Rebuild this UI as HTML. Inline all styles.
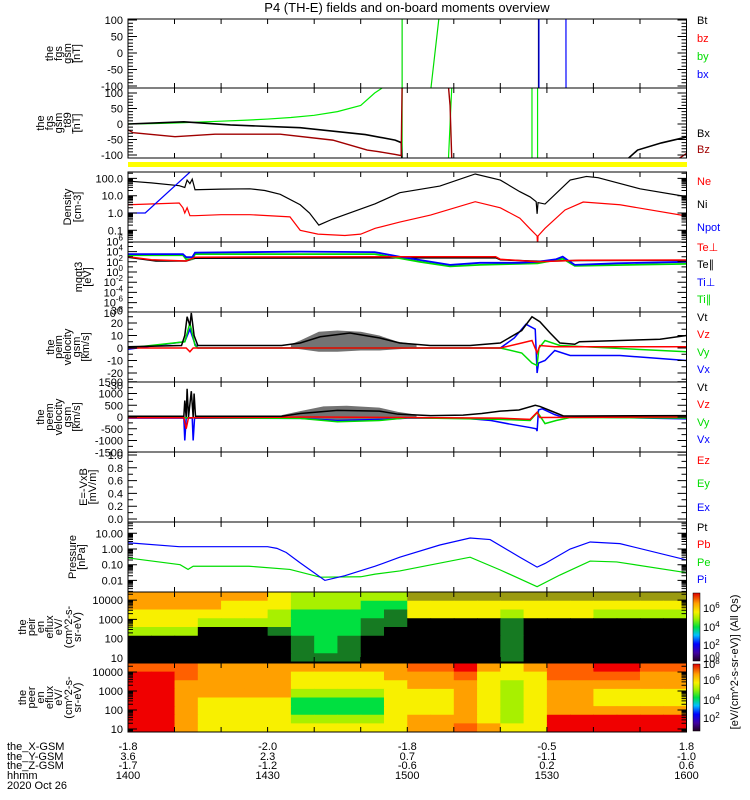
<!DOCTYPE html>
<html><head><meta charset="utf-8"><title>THEMIS-E overview</title>
<style>
html,body{margin:0;padding:0;background:#fff;}
svg{display:block;font-family:"Liberation Sans",sans-serif;}
text{font-size:11px;}
</style></head>
<body>
<svg id="chart" width="750" height="800" viewBox="0 0 750 800" xmlns="http://www.w3.org/2000/svg">
<rect x="0" y="0" width="750" height="800" fill="#fff"/>
<text x="407" y="12" text-anchor="middle" style="font-size:13px">P4 (TH-E) fields and on-board moments overview</text>
<g id="spec"></g>
<g id="series"></g>
<g id="frames"></g>
<rect x="128" y="162" width="559" height="5" fill="#ffff00"/>
<g id="ylabels" fill="#000"></g>
<g id="legend"></g>
<g id="titles"></g>
<g>
<defs><linearGradient id="cbg" x1="0" y1="1" x2="0" y2="0">
<stop offset="0" stop-color="#200020"/><stop offset="0.12" stop-color="#4000a0"/><stop offset="0.25" stop-color="#0000ff"/><stop offset="0.38" stop-color="#00c0ff"/><stop offset="0.5" stop-color="#00e040"/><stop offset="0.62" stop-color="#a0f000"/><stop offset="0.72" stop-color="#f8f000"/><stop offset="0.85" stop-color="#ffa000"/><stop offset="1" stop-color="#e00000"/></linearGradient></defs>
<rect x="693" y="593" width="7" height="68" fill="url(#cbg)" stroke="#000" stroke-width="0.5"/>
<text x="703" y="612">10<tspan dy="-4" style="font-size:8px">6</tspan></text>
<text x="703" y="631">10<tspan dy="-4" style="font-size:8px">4</tspan></text>
<text x="703" y="649">10<tspan dy="-4" style="font-size:8px">2</tspan></text>
<text x="703" y="662">10<tspan dy="-4" style="font-size:8px">0</tspan></text>
</g>
<g>
<rect x="693" y="664" width="7" height="67" fill="url(#cbg)" stroke="#000" stroke-width="0.5"/>
<text x="703" y="668">10<tspan dy="-4" style="font-size:8px">8</tspan></text>
<text x="703" y="684">10<tspan dy="-4" style="font-size:8px">6</tspan></text>
<text x="703" y="704">10<tspan dy="-4" style="font-size:8px">4</tspan></text>
<text x="703" y="722">10<tspan dy="-4" style="font-size:8px">2</tspan></text>
</g>
<text transform="rotate(-90 738 662)" x="738" y="662" text-anchor="middle">[eV/(cm^2-s-sr-eV)]  (All Qs)</text>
<g id="xlab">
<text x="7" y="750">the_X-GSM</text>
<text x="7" y="760">the_Y-GSM</text>
<text x="7" y="769">the_Z-GSM</text>
<text x="7" y="779">hhmm</text>
<text x="7" y="789">2020 Oct 26</text>
</g>
</svg>
<script>
// ===== data =====
const timeTickLabels=["1400","1430","1500","1530","1600"];
const xGsmLabels=["-1.8","-2.0","-1.8","-0.5","1.8"];
const yGsmLabels=["3.6","2.3","0.7","-1.1","-1.0"];
const zGsmLabels=["-1.7","-1.2","-0.6","0.2","0.6"];
// panel 1 (fgs gsm, nT): [minutes since 14:00, value]
const p1By=[[58.9,-999],[58.9,999],null,[65.1,-105],[66.8,105]];
const p1Bx=[[88.3,-999],[88.3,999],null,[94.1,999],[94.1,30],[94.2,-999]];
const p1Bt=[[88.2,-999],[88.2,999]];
// panel 2 (fgs gsm t89)
const p2Green=[[0,0],[5,1],[10,3],[15,6],[20,9],[25,12],[30,16],[35,21],[40,28],[45,40],[50,60],[53,100],[56,130],null,[58.9,-130],[58.9,130],null,[68.8,-130],[69.6,130],null,[86.8,-130],[86.8,130],null,[88,130],[88,-130]];
const p2Bx=[[0,0],[12,7],[22,-3],[37,-12],[51,-34],[57.4,-52],[58.7,-60],[58.9,-130],null,[107.4,-112],[109.5,-84],[114.6,-61],[120,-42]];
const p2Bz=[[0,-19],[1.1,-28],[10.1,-41],[18.7,-33],[32.7,-33],[44,-52],[51.4,-84],[53.7,-89],[57.4,-98],[58.7,-102],[58.9,130],null,[68.8,130],[69.2,60],[69.6,-130],null,[116.5,-130],[120,-95]];
// panel 3 density (cm^-3)
const p3Ni=[[0,70],[5,55],[11,38],[12.2,30],[12.7,80],[13.3,50],[13.8,90],[14.4,22],[20,24],[26.2,25],[29.4,20],[32.7,12],[37,3],[39,1],[41,0.2],[44,0.45],[53.1,3.4],[58.4,15],[67,36],[74.6,180],[80,80],[84.2,17],[86.4,8.5],[87.7,4.5],[87.9,0.9],[88.1,4],[89.6,3.3],[95,80],[98.5,130],[101,110],[110,25],[120,8.8]];
const p3Ne=[[0,3],[11,3.8],[11.8,2],[12.2,1],[12.7,2],[13.3,0.7],[14.4,0.7],[20,0.8],[26.2,0.8],[34.8,0.6],[37,0.1],[40.8,0.06],[46.6,0.05],[50,0.06],[53.1,0.13],[58.4,0.3],[65,0.76],[74.6,4.5],[80,2],[84.2,0.5],[86.4,0.12],[87.9,0.047],[88,0.01],[88.1,0.047],[89.6,0.13],[93.9,1.5],[97.8,4.3],[105.7,3],[120,0.67]];
const p3Npot=[[0,1],[3.7,1],[13.3,230]];
// panel 4 temperatures, log10(eV)
const p4TiPerp=[[0,3.5],[11.8,3.5],[12.5,2.9],[13.8,2.9],[14.4,3.8],[37,4.0],[53,3.9],[58.4,3.0],[62.7,2.35],[69.2,1.4],[75.6,1.8],[84,1.8],[88,2.0],[92,2.5],[93.4,3.0],[94.5,2.3],[96,1.4],[105,1.7],[120,2.0]];
const p4TiPar=[[0,3.3],[11.8,3.3],[12.5,2.5],[13.8,2.5],[14.4,3.5],[53,3.5],[58.4,2.7],[62.7,2.0],[69.2,1.1],[75.6,1.4],[88,1.7],[93.4,2.6],[96,1.2],[120,1.6]];
const p4TePerp=[[0,3.0],[5,2.4],[12.5,2.15],[14.4,2.9],[53,3.0],[79,3.0],[80,2.5],[88,2.0],[97,2.3],[120,2.35]];
const p4TePar=[[0,2.9],[6,2.15],[12.5,2.15],[14.4,2.7],[79,2.8],[80,2.4],[88,2.1],[97,2.25],[120,2.3]];
// panel 5 peim velocity (km/s)
const p5Vt=[[0,1],[11.5,2],[12.2,10],[12.7,25],[13.3,18],[13.6,28],[14.2,10],[15,2],[33,2],[37,4],[41.3,9],[47.7,12],[54.1,8],[58.4,4],[64.9,2],[73.5,2],[80,4],[84.6,14],[86.8,25],[88.5,21],[90.7,12],[92.8,4],[96,3],[97,5],[105.7,6],[114.3,7],[120,10]];
const p5Vz=[[0,0],[12.5,0],[13.3,-3],[14,0],[80,0],[84.6,4],[86.8,6],[87.9,-4],[88.5,2],[91.7,1],[120,1]];
const p5Vy=[[0,0],[12.2,5],[13.3,20],[14.4,2],[15,0],[80,0],[84.6,-4],[86.8,-12],[87.9,-14],[88.3,0],[89.6,6],[92.8,2],[120,-3]];
const p5Vx=[[0,-1],[12.2,5],[13.3,15],[14.4,3],[15,0],[80,0],[83,8],[85.5,19],[87.5,15],[87.9,-20],[88.2,-12],[89.6,-10],[91.7,-2],[95,-6],[105.7,-6],[120,-10]];
const p5Noise=[[35,0,3],[37,-1,6],[41,-3,13],[45,-3,14],[50,-2,13],[54,-2,10],[58,-1,5],[62,0,3]];
// panel 6 peem velocity (km/s)
const p6Vt=[[0,30],[12,30],[12.2,700],[12.5,0],[12.7,1200],[13,0],[13.6,1100],[14,0],[14.2,1000],[14.5,30],[33,30],[37,150],[45,280],[54,250],[58,120],[65,60],[72,80],[76,150],[80,250],[84,300],[87.5,500],[88.5,450],[91,250],[93.5,50],[96,40],[120,60]];
const p6Vx=[[0,-50],[12,-50],[12.2,-1000],[12.5,-50],[13.8,-50],[14,-1000],[14.3,-50],[37,-60],[45,-150],[55,-100],[60,-50],[72,-50],[78,-150],[82,-300],[86.4,-450],[87.7,-500],[87.9,-600],[88.2,300],[89,350],[91.7,100],[93,20],[120,-80]];
const p6Vy=[[0,-20],[37,-60],[45,-200],[54,-150],[60,-30],[80,-100],[86.4,-150],[88,200],[89.6,-280],[92,-150],[95,-20],[120,-40]];
const p6Vz=[[0,-30],[12,-30],[12.5,-500],[13,-30],[40,0],[80,-50],[86.4,-100],[87.9,200],[88.5,-20],[120,0]];
const p6Noise=[[33,-30,80],[37,-60,250],[42,-100,450],[47,-150,480],[54,-100,400],[58,-30,220],[62,0,100]];
// panel 8 pressure (nPa)
const p8Pi=[[0,2.5],[11,1.4],[30,1.4],[32,1.1],[34,0.6],[37,0.13],[42.3,0.01],[46.6,0.02],[53.1,0.08],[58.4,0.3],[67,1.8],[73.5,5],[77.8,4],[84.2,0.3],[87.9,0.07],[89.6,0.12],[95,1],[99.3,2.8],[105.7,2.2],[120,0.2]];
const p8Pe=[[0,0.27],[11.2,0.1],[12.9,0.05],[14,0.08],[26,0.08],[34.8,0.05],[41.3,0.016],[50,0.017],[53.1,0.025],[58.4,0.04],[73.5,0.3],[80,0.046],[87.9,0.004],[92.8,0.022],[99.3,0.17],[105,0.15],[120,0.031]];
// spectrograms: flux level per 5-min column (24), energy bins top->bottom (8); -1 = no counts, 9/10 = speckled green/yellow
const ionFlux=[
[6,6,6,6,6,6,5,4,4,4,4,4,10,10,10,10,10,10,10,10,10,10,10,10],
[6,6,6,6,5,5,5,4,4,4,3,3,5,5,5,5,5,5,5,5,5,5,5,5],
[5,5,5,5,5,5,4,3,3,3,3,9,5,5,5,5,4,5,5,5,4,4,4,4],
[5,5,5,4,4,4,4,3,3,3,9,9,-1,-1,-1,-1,9,-1,-1,-1,-1,-1,-1,-1],
[4,4,4,-1,-1,-1,9,3,3,3,9,-1,-1,-1,-1,-1,9,-1,-1,-1,-1,-1,-1,-1],
[-1,-1,-1,-1,-1,-1,-1,9,3,9,-1,-1,-1,-1,-1,-1,9,-1,-1,-1,-1,-1,-1,-1],
[-1,-1,-1,-1,-1,-1,-1,9,3,9,-1,-1,-1,-1,-1,-1,9,-1,-1,-1,-1,-1,-1,-1],
[-1,-1,-1,-1,-1,-1,-1,9,9,9,-1,-1,-1,-1,-1,-1,9,-1,-1,-1,-1,-1,-1,-1]];
const elecFlux=[
[7,7,7,6,6,6,6,6,6,6,6,6,7,7,8,6,5,6,7,7,8,8,7,7],
[8,8,7,6,6,6,6,5,5,5,5,6,6,6,7,5,5,5,7,7,7,7,6,6],
[8,8,6,6,6,6,6,5,5,5,5,5,6,6,6,5,4,5,6,6,6,6,6,6],
[8,8,6,6,6,6,6,4,4,4,4,5,5,5,6,5,4,5,6,6,5,5,5,5],
[8,8,6,5,5,5,5,3,3,3,3,5,5,5,6,5,4,5,6,6,5,5,5,5],
[8,8,6,5,5,5,5,3,3,3,3,5,5,5,6,5,4,5,6,6,6,6,6,6],
[8,8,6,5,5,5,5,4,4,4,4,5,6,6,6,5,4,5,8,8,8,8,8,8],
[8,8,6,5,5,5,5,5,5,5,5,5,6,6,7,6,5,5,8,8,8,8,8,8]];

// ===== rendering =====
const NS="http://www.w3.org/2000/svg";
const X0=128,X1=686.5;
const xT=t=>X0+t*(X1-X0)/120;
function mk(tag,attrs,parent){const e=document.createElementNS(NS,tag);for(const k in attrs)e.setAttribute(k,attrs[k]);parent.appendChild(e);return e;}
const lg=Math.log10;
const panels=[
 {id:'fgs',top:19,bot:88,y:v=>53-0.33*v,ticks:[[100,'100'],[50,'50'],[0,'0'],[-50,'-50'],[-100,'-100']],minor:[-90,-80,-70,-60,-40,-30,-20,-10,10,20,30,40,60,70,80,90]},
 {id:'fgs-t89',top:88,bot:158,y:v=>124-0.31*v,ticks:[[100,'100'],[50,'50'],[0,'0'],[-50,'-50'],[-100,'-100']],minor:[-90,-80,-70,-60,-40,-30,-20,-10,10,20,30,40,60,70,80,90]},
 {id:'density',top:172,bot:242,y:v=>213-17.3*lg(v),ticks:[[100,'100.0'],[10,'10.0'],[1,'1.0'],[0.1,'0.1']],log:true},
 {id:'temperature',top:242,bot:312,y:v=>272-5.1*v,ticks:[[6,'10^6'],[4,'10^4'],[2,'10^2'],[0,'10^0'],[-2,'10^-2'],[-4,'10^-4'],[-6,'10^-6'],[-8,'10^-8']],minor:[5,3,1,-1,-3,-5,-7]},
 {id:'peim-velocity',top:312,bot:382,y:v=>348-1.25*v,ticks:[[30,'30'],[20,'20'],[10,'10'],[0,'0'],[-10,'-10'],[-20,'-20'],[-30,'-30']],minor:[25,15,5,-5,-15,-25]},
 {id:'peem-velocity',top:382,bot:452,y:v=>417-0.0235*v,ticks:[[1500,'1500'],[1000,'1000'],[500,'500'],[0,'0'],[-500,'-500'],[-1000,'-1000'],[-1500,'-1500']],minor:[1250,750,250,-250,-750,-1250]},
 {id:'efield',top:452,bot:522,y:v=>519-64*v,ticks:[[1,'1.0'],[0.8,'0.8'],[0.6,'0.6'],[0.4,'0.4'],[0.2,'0.2'],[0,'0.0']],minor:[0.9,0.7,0.5,0.3,0.1]},
 {id:'pressure',top:522,bot:592,y:v=>549-15.7*lg(v),ticks:[[10,'10.00'],[1,'1.00'],[0.1,'0.10'],[0.01,'0.01']],log:true},
 {id:'ion-spectrogram',top:592,bot:662,y:v=>658-19.3*(lg(v)-1),ticks:[[10000,'10000'],[1000,'1000'],[100,'100'],[10,'10']],log:true},
 {id:'electron-spectrogram',top:663,bot:732,y:v=>729-19*(lg(v)-1),ticks:[[10000,'10000'],[1000,'1000'],[100,'100'],[10,'10']],log:true}
];
const svg=document.getElementById('chart');
const defs=mk('defs',{},svg);
panels.forEach((p,i)=>{const cp=mk('clipPath',{id:'clip'+i},defs);mk('rect',{x:X0,y:p.top,width:X1-X0,height:p.bot-p.top},cp);});

// spectrograms
const cmap=['#400060','#0000ff','#00c0ff','#00e040','#a8f000','#f8f000','#ffa000','#ff6000','#f00000','#167a22','#9a9a10'];
function drawSpec(grid,pi,name){
 const p=panels[pi];const g=mk('g',{'clip-path':'url(#clip'+pi+')'},document.getElementById('spec'));
 
 
 const rows=grid.length,cols=grid[0].length,rh=(p.bot-p.top)/rows,cw=(X1-X0)/cols;
 grid.forEach((row,r)=>row.forEach((v,c)=>{
  const cell=mk('rect',{x:(X0+c*cw).toFixed(2),y:(p.top+r*rh).toFixed(2),width:(cw+0.6).toFixed(2),height:(rh+0.6).toFixed(2),fill:v<0?'#000':cmap[v]},g);
  
  
 }));
}
drawSpec(ionFlux,8,'ion-energy-flux');
drawSpec(elecFlux,9,'electron-energy-flux');

// series
function path(pts,p){let d='',pen=false;pts.forEach(q=>{if(!q){pen=false;return;}const yy=Math.max(-500,Math.min(1300,p.y(q[1])));d+=(pen?'L':'M')+xT(q[0]).toFixed(2)+' '+yy.toFixed(2);pen=true;});return d;}
function line(pts,pi,color,name,w){
 const p=panels[pi];const e=mk('path',{d:path(pts,p),fill:'none',stroke:color,'stroke-width':w||1.2,'clip-path':'url(#clip'+pi+')'},document.getElementById('series'));
 
 
}
function band(pts,pi,color,name){
 const p=panels[pi];let d='';pts.forEach((q,k)=>{d+=(k?'L':'M')+xT(q[0]).toFixed(2)+' '+p.y(q[2]).toFixed(2);});
 for(let k=pts.length-1;k>=0;k--){d+='L'+xT(pts[k][0]).toFixed(2)+' '+p.y(pts[k][1]).toFixed(2);}
 const e=mk('path',{d:d+'Z',fill:color,'fill-opacity':0.55,'clip-path':'url(#clip'+pi+')'},document.getElementById('series'));
 
 
}
line(p1Bt,0,'#000','line-bt');line(p1By,0,'#00dd00','line-by');line(p1Bx,0,'#0000ff','line-bx');
line(p2Green,1,'#00ee00','line-by-t89');line(p2Bx,1,'#000','line-bx-t89',1.6);line(p2Bz,1,'#a00000','line-bz-t89',1.4);
line(p3Ni,2,'#000','line-ni');line(p3Ne,2,'#ff0000','line-ne');line(p3Npot,2,'#0000ff','line-npot');
line(p4TePar,3,'#000','line-te-par',1.5);line(p4TiPar,3,'#00dd00','line-ti-par',1.8);line(p4TiPerp,3,'#0000ff','line-ti-perp',1.8);line(p4TePerp,3,'#ff0000','line-te-perp',1.5);
band(p5Noise,4,'#000','noise-band-peim');
line(p5Vx,4,'#0000ff','line-vx-peim',1.5);line(p5Vy,4,'#00dd00','line-vy-peim',1.5);line(p5Vz,4,'#ff0000','line-vz-peim',1.5);line(p5Vt,4,'#000','line-vt-peim',1.5);
band(p6Noise,5,'#000','noise-band-peem');
line(p6Vx,5,'#0000ff','line-vx-peem',1.5);line(p6Vy,5,'#00dd00','line-vy-peem',1.5);line(p6Vz,5,'#ff0000','line-vz-peem',1.5);line(p6Vt,5,'#000','line-vt-peem',1.5);
line(p8Pe,7,'#00dd00','line-pe');line(p8Pi,7,'#0000ff','line-pi');

// frames, ticks, labels
const fr=document.getElementById('frames'),yl=document.getElementById('ylabels');
panels.forEach((p,i)=>{
 const r=mk('rect',{x:X0,y:p.top,width:X1-X0,height:p.bot-p.top,fill:'none',stroke:'#000','stroke-width':1},fr);
 
 
 let d='';
 for(let t=10;t<120;t+=10){const x=xT(t).toFixed(1);d+=`M${x} ${p.bot}v-5M${x} ${p.top}v5`;}
 const mt=(y,len)=>{if(y<p.top-0.5||y>p.bot+0.5)return;d+=`M${X0} ${y.toFixed(1)}h${len}M${X1} ${y.toFixed(1)}h${-len}`;};
 p.ticks.forEach(tk=>mt(p.y(tk[0]),9));
 if(p.minor)p.minor.forEach(v=>mt(p.y(v),5));
 if(p.log){for(let e=-3;e<5;e++)for(let m=2;m<10;m++)mt(p.y(m*Math.pow(10,e)),5);}
 const tk=mk('path',{d:d,stroke:'#000','stroke-width':1,fill:'none'},fr);
 
 
 p.ticks.forEach(t=>{
  const y=p.y(t[0]);const s=t[1];
  const tx=mk('text',{x:123,y:(y+4).toFixed(1),'text-anchor':'end'},yl);
  if(s.startsWith('10^')){tx.textContent='10';const ts=mk('tspan',{dy:-5,style:'font-size:8px'},tx);ts.textContent=s.slice(3);}
  else tx.textContent=s;
  
  
 });
});
// time axis labels
const xl=document.getElementById('xlab');
timeTickLabels.forEach((s,k)=>{
 const x=xT(k*30);
 [[xGsmLabels[k],750],[yGsmLabels[k],760],[zGsmLabels[k],769],[s,779]].forEach(a=>{
  const t=mk('text',{x:x.toFixed(1),y:a[1],'text-anchor':'middle'},xl);t.textContent=a[0];
  
  
 });
});
// legends
const legend=[[24,'Bt','#000'],[42,'bz','#ff0000'],[60,'by','#00dd00'],[78,'bx','#0000ff'],[137,'Bx','#000'],[153,'Bz','#a00000'],
[185,'Ne','#ff0000'],[208,'Ni','#000'],[231,'Npot','#0000ff'],[251,'Te\u22a5','#ff0000'],[268,'Te\u2225','#000'],[286,'Ti\u22a5','#0000ff'],[303,'Ti\u2225','#00dd00'],
[321,'Vt','#000'],[338,'Vz','#ff0000'],[356,'Vy','#00dd00'],[373,'Vx','#0000ff'],[391,'Vt','#000'],[408,'Vz','#ff0000'],[426,'Vy','#00dd00'],[443,'Vx','#0000ff'],
[464,'Ez','#ff0000'],[487,'Ey','#00dd00'],[511,'Ex','#0000ff'],[531,'Pt','#000'],[548,'Pb','#ff0000'],[566,'Pe','#00dd00'],[583,'Pi','#0000ff']];
const lgG=document.getElementById('legend');
legend.forEach(l=>{const t=mk('text',{x:697,y:l[0],fill:l[2]},lgG);t.textContent=l[1];
 
 });
// y-axis titles (rotated)
const titles=[[0,[[53,'the'],[62,'fgs'],[71,'gsm'],[80,'[nT]']]],[1,[[44,'the'],[53,'fgs'],[62,'gsm'],[71,'_t89'],[80,'[nT]']]],
[2,[[71,'Density'],[81,'[cm-3]']]],[3,[[82,'mqqt3'],[91,'[eV]']]],
[4,[[54,'the'],[62,'peim'],[71,'velocity'],[80,'gsm'],[89,'[km/s]']]],[5,[[44,'the'],[53,'peem'],[62,'velocity'],[71,'gsm'],[80,'[km/s]']]],
[6,[[87,'E=-VxB'],[96,'[mV/m]']]],[7,[[76,'Pressure'],[85,'[nPa]']]],
[8,[[26,'the'],[35,'peir'],[44,'en'],[53,'eflux'],[62,'eV/'],[72,'(cm^2-s-'],[81,'sr-eV)']]],[9,[[26,'the'],[35,'peer'],[44,'en'],[53,'eflux'],[62,'eV/'],[72,'(cm^2-s-'],[81,'sr-eV)']]]];
const tG=document.getElementById('titles');
titles.forEach(tt=>{const p=panels[tt[0]];const cy=(p.top+p.bot)/2;
 tt[1].forEach(l=>{const t=mk('text',{x:l[0],y:cy.toFixed(1),'text-anchor':'middle',transform:`rotate(-90 ${l[0]} ${cy.toFixed(1)})`},tG);t.textContent=l[1];
  
  });});
</script>
</body></html>
